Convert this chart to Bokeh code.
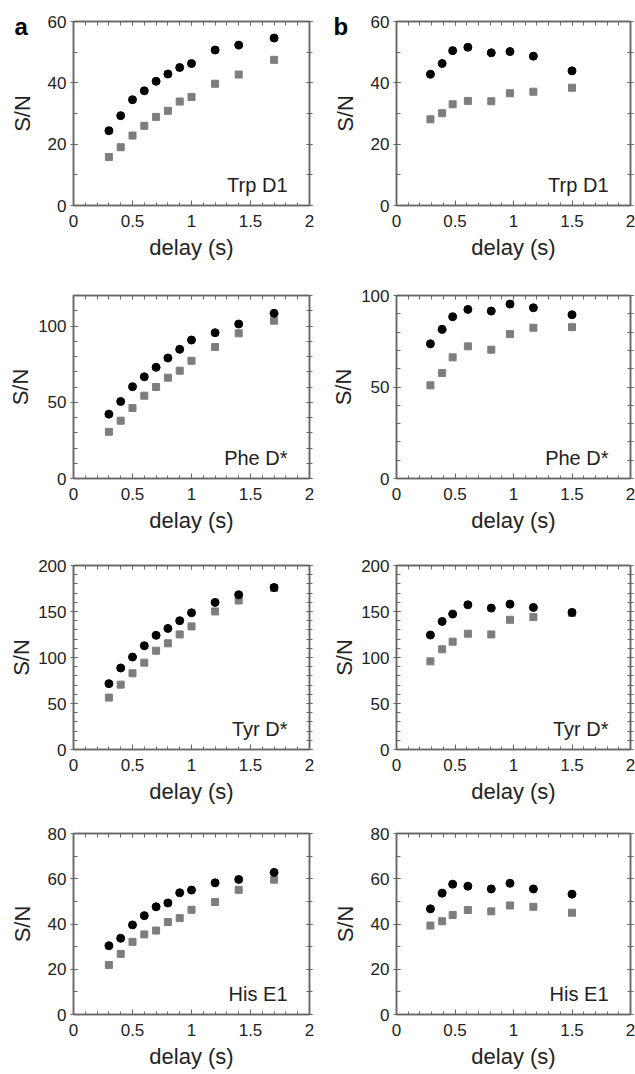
from bokeh.plotting import figure
from bokeh.models import LinearAxis, FixedTicker, Range1d, Label, CustomJSTickFormatter
from bokeh.layouts import gridplot
from bokeh.embed import file_html
from bokeh.resources import INLINE

# ---------------- data ----------------
delay_a = [0.3, 0.4, 0.5, 0.6, 0.7, 0.8, 0.9, 1.0, 1.2, 1.4, 1.7]
delay_b = [0.29, 0.39, 0.48, 0.61, 0.81, 0.97, 1.17, 1.5]

trp_a_black = [24.4, 29.3, 34.5, 37.4, 40.5, 42.9, 45.0, 46.3, 50.7, 52.3, 54.6]
trp_a_gray = [15.8, 19.0, 22.8, 26.0, 28.9, 30.9, 33.9, 35.4, 39.7, 42.7, 47.5]
trp_b_black = [42.8, 46.3, 50.5, 51.6, 49.8, 50.2, 48.7, 43.9]
trp_b_gray = [28.1, 30.1, 33.0, 34.1, 34.0, 36.6, 37.1, 38.4]

phe_a_black = [42.2, 50.5, 60.2, 66.7, 72.9, 79.0, 84.7, 90.8, 95.6, 101.3, 108.3]
phe_a_gray = [30.6, 37.9, 46.2, 54.3, 60.0, 66.1, 70.7, 77.2, 86.2, 95.2, 103.5]
phe_b_black = [73.6, 81.5, 88.4, 92.4, 91.5, 95.3, 93.3, 89.5]
phe_b_gray = [50.9, 57.6, 66.2, 72.2, 70.4, 78.9, 82.4, 82.7]

tyr_a_black = [71.6, 88.6, 100.5, 112.8, 124.1, 131.6, 140.0, 148.6, 159.9, 168.2, 176.1]
tyr_a_gray = [56.4, 70.5, 82.8, 94.4, 107.4, 115.4, 125.1, 133.8, 150.1, 162.0, 175.5]
tyr_b_black = [124.4, 139.2, 147.2, 157.3, 153.7, 158.0, 154.4, 149.0]
tyr_b_gray = [95.8, 108.9, 117.2, 125.9, 125.1, 141.0, 143.9, 148.5]

his_a_black = [30.4, 33.7, 39.6, 43.7, 47.6, 49.3, 53.8, 55.0, 58.2, 59.7, 62.8]
his_a_gray = [21.9, 26.8, 32.1, 35.4, 37.1, 40.9, 42.6, 46.3, 49.7, 55.1, 59.6]
his_b_black = [46.7, 53.6, 57.6, 56.7, 55.5, 58.0, 55.5, 53.2]
his_b_gray = [39.3, 41.2, 44.0, 46.2, 45.6, 48.2, 47.6, 45.0]

panel_names = ["Trp D1", "Phe D*", "Tyr D*", "His E1"]
y_max_a = [60, 120, 200, 80]
y_max_b = [60, 100, 200, 80]
y_major = [[0, 20, 40, 60], [0, 50, 100], [0, 50, 100, 150, 200], [0, 20, 40, 60, 80]]
x_major = [0, 0.5, 1, 1.5, 2]
x_labels_text = "delay (s)"
y_label_text = "S/N"
panel_letters = ["a", "b"]

# ---------------- styling ----------------
FONT = "Liberation Sans"
FRAME = "#666666"
TXT = "#222222"
row_heights = [270, 270, 268, 266]
row_border_top = [21, 25, 25, 25]
row_border_bottom = [65, 62, 59, 60]
ylab_standoff = [10, 2, 1, 10]

blank = CustomJSTickFormatter(code="return ''")


def make_panel(col, row, xs, black, gray, ymax, name):
    left = col == 0
    w = 318 if left else 317
    p = figure(width=w, height=row_heights[row], output_backend="svg", toolbar_location=None,
               x_range=Range1d(0, 2), y_range=Range1d(0, ymax),
               min_border_left=73 if left else 78, min_border_right=9 if left else 5,
               min_border_top=row_border_top[row], min_border_bottom=row_border_bottom[row],
               tools="", title=panel_letters[col] if row == 0 else None)
    p.xgrid.visible = False
    p.ygrid.visible = False
    p.outline_line_color = FRAME
    p.outline_line_width = 1.5
    p.background_fill_color = "white"
    p.border_fill_color = "white"

    if row == 0:
        t = p.title
        t.align = "left"
        t.vertical_align = "bottom"
        t.offset = -59 if left else -63
        t.standoff = -36
        t.text_font = FONT
        t.text_font_size = "24px"
        t.text_font_style = "bold"
        t.text_color = "black"

    majors = [t for t in y_major[row] if t <= ymax]
    yminor = list(range(0, int(ymax) + 1, 10))
    xminor = [round(0.1 * i, 1) for i in range(21)]

    xt = FixedTicker(ticks=x_major, minor_ticks=xminor)
    yt = FixedTicker(ticks=majors, minor_ticks=yminor)

    xa = p.xaxis[0]
    xa.ticker = xt
    xa.axis_label = x_labels_text
    ya = p.yaxis[0]
    ya.ticker = yt
    ya.axis_label = y_label_text

    for ax in (xa, ya):
        ax.axis_line_color = FRAME
        ax.axis_line_width = 1.5
        ax.major_tick_line_color = FRAME
        ax.minor_tick_line_color = FRAME
        ax.major_label_text_font = FONT
        ax.major_label_text_font_size = "17px"
        ax.major_label_text_color = TXT
        ax.axis_label_text_font = FONT
        ax.axis_label_text_font_size = "22px"
        ax.axis_label_text_font_style = "normal"
        ax.axis_label_text_color = TXT

    xa.major_tick_in = 5
    xa.major_tick_out = 0
    xa.minor_tick_in = 3
    xa.minor_tick_out = 0
    xa.major_label_standoff = 9
    xa.axis_label_standoff = 5

    ya.major_tick_in = 4
    ya.major_tick_out = 3
    ya.minor_tick_in = 4
    ya.minor_tick_out = 0
    ya.major_label_standoff = 4
    ya.axis_label_standoff = ylab_standoff[row]

    top = LinearAxis(ticker=FixedTicker(ticks=x_major, minor_ticks=xminor), formatter=blank)
    right = LinearAxis(ticker=FixedTicker(ticks=majors, minor_ticks=yminor), formatter=blank)
    for ax in (top, right):
        ax.axis_line_color = FRAME
        ax.axis_line_width = 1.5
        ax.major_tick_line_color = FRAME
        ax.minor_tick_line_color = FRAME
        ax.major_label_standoff = 0
    top.major_tick_in = 4
    top.major_tick_out = 0
    top.minor_tick_in = 4
    top.minor_tick_out = 0
    right.major_tick_in = 3
    right.major_tick_out = 3
    right.minor_tick_in = 3
    right.minor_tick_out = 3
    p.add_layout(top, "above")
    p.add_layout(right, "right")

    p.scatter(xs, gray, marker="square", size=7, fill_color="#7d7d7d", line_color="#7d7d7d")
    p.scatter(xs, black, marker="circle", size=8, fill_color="black", line_color="black")

    p.add_layout(Label(x=2, y=0, text=name, text_align="right", text_baseline="alphabetic",
                       x_offset=-22, y_offset=21, text_font=FONT, text_font_size="20px",
                       text_color=TXT))
    return p


a_black = [trp_a_black, phe_a_black, tyr_a_black, his_a_black]
a_gray = [trp_a_gray, phe_a_gray, tyr_a_gray, his_a_gray]
b_black = [trp_b_black, phe_b_black, tyr_b_black, his_b_black]
b_gray = [trp_b_gray, phe_b_gray, tyr_b_gray, his_b_gray]

rows = []
for r in range(4):
    pa = make_panel(0, r, delay_a, a_black[r], a_gray[r], y_max_a[r], panel_names[r])
    pb = make_panel(1, r, delay_b, b_black[r], b_gray[r], y_max_b[r], panel_names[r])
    rows.append([pa, pb])

grid = gridplot(rows, toolbar_location=None)

open("out.html", "w").write(file_html(grid, INLINE))
